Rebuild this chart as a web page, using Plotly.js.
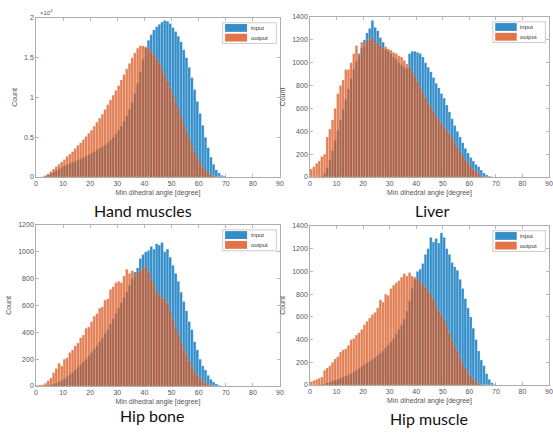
<!DOCTYPE html>
<html>
<head>
<meta charset="utf-8">
<script src="https://cdn.plot.ly/plotly-3.0.1.min.js"></script>
<style>html,body{margin:0;padding:0;background:#fff;}#chart{width:553px;height:434px;}</style>
</head>
<body>
<div id="chart"></div>
<script>
// Bin left edges (degrees), bin width 1
const binLeft = [0,1,2,3,4,5,6,7,8,9,10,11,12,13,14,15,16,17,18,19,20,21,22,23,24,25,26,27,28,29,30,31,32,33,34,35,36,37,38,39,40,41,42,43,44,45,46,47,48,49,50,51,52,53,54,55,56,57,58,59,60,61,62,63,64,65,66,67,68,69];

const panelTitles = ["Hand muscles", "Liver", "Hip bone", "Hip muscle"];
const seriesNames = ["input", "output"];

const handInput = [0,0,0,100,250,400,600,800,1000,1200,1400,1550,1700,1850,2000,2150,2300,2450,2600,2800,3000,3200,3400,3600,3800,4000,4300,4650,5000,5400,5900,6400,7000,7700,8500,9400,10500,11800,13200,14800,16200,17200,17900,18500,18900,19200,19500,19700,19600,19300,18800,18300,17700,17000,16000,15000,13800,12500,11000,9500,8000,6500,5000,3700,2500,1600,900,500,200,100];
const handOutput = [0,0,50,200,400,700,1000,1300,1600,1900,2200,2600,2900,3200,3600,4000,4300,4700,5100,5500,5900,6400,6900,7400,7900,8500,9100,9700,10300,10900,11500,12200,12900,13600,14300,15000,15600,16200,16500,16500,16400,16200,15800,15400,14900,14300,13600,12900,12100,11300,10400,9500,8600,7700,6700,5800,4900,4000,3200,2500,1800,1300,900,500,300,150,50,0,0,0];

const liverInput = [0,0,0,0,5,30,80,150,230,320,410,500,590,680,770,860,940,1010,1080,1130,1200,1260,1300,1370,1310,1280,1220,1180,1120,1100,1080,1050,1030,1000,980,960,950,1080,1100,1100,1090,1080,1050,1000,960,920,870,820,780,730,690,630,570,510,450,400,350,300,250,210,170,140,110,90,60,35,18,8,3,0];
const liverOutput = [70,90,120,140,180,200,350,420,500,600,730,800,850,940,940,1000,1080,1150,1060,1180,1150,1200,1200,1230,1170,1180,1150,1130,1140,1120,1110,1090,1080,1060,1050,1020,990,960,920,880,840,790,740,700,650,610,575,540,500,470,440,410,380,340,300,260,220,185,150,125,95,70,50,30,15,6,2,0,0,0];

const hipBoneInput = [0,0,0,2,5,10,15,22,30,40,55,70,85,100,120,140,160,180,200,225,250,275,300,330,360,390,420,460,500,540,580,620,660,700,750,800,850,880,950,980,1000,1010,1040,1020,1060,1050,1070,1000,1020,960,900,840,780,700,630,560,480,420,330,270,200,150,120,80,50,30,15,5,0,0];
const hipBoneOutput = [5,8,10,20,40,60,100,130,170,150,200,210,250,270,300,320,360,380,430,440,480,520,540,580,590,640,650,720,740,770,780,770,820,870,840,860,820,850,860,880,890,850,800,760,700,680,660,650,620,560,500,440,390,330,280,240,190,150,110,80,60,40,25,12,6,2,0,0,0,0];

const hipMuscleInput = [0,0,0,2,5,10,18,25,35,42,50,60,70,80,90,100,115,130,145,160,180,195,210,225,240,260,280,300,330,350,380,410,450,490,530,580,650,740,850,930,1000,1020,1070,1150,1200,1300,1260,1290,1250,1340,1300,1200,1150,1080,1040,1010,930,850,760,680,600,500,400,300,220,170,100,50,20,5];
const hipMuscleOutput = [30,40,50,60,70,130,150,170,200,230,250,290,310,320,350,400,410,440,460,490,530,560,590,620,640,680,750,730,800,790,850,880,900,920,950,980,960,990,960,950,930,910,890,860,830,800,760,700,650,620,580,520,460,400,340,300,240,190,150,110,80,50,30,15,6,0,0,0,0,0];

const xTickVals = [0,10,20,30,40,50,60,70,80,90];
const yTicksHand = [0,5000,10000,15000,20000];
const yTicksHandText = ["0","0.5","1","1.5","2"];
const yTicks1400 = [0,200,400,600,800,1000,1200,1400];
const yTicks1200 = [0,200,400,600,800,1000,1200];

const panels = [
  {inp: handInput, out: handOutput, ax: "", yr: [0,20000], yt: yTicksHand, ytt: yTicksHandText, dx: [36/553, 280/553], dy: [257/434, 416/434], tx: 143/553, ty: 1-211/434},
  {inp: liverInput, out: liverOutput, ax: "2", yr: [0,1400], yt: yTicks1400, ytt: null, dx: [310/553, 549/553], dy: [257/434, 417/434], tx: 432/553, ty: 1-211/434},
  {inp: hipBoneInput, out: hipBoneOutput, ax: "3", yr: [0,1200], yt: yTicks1200, ytt: null, dx: [36/553, 280/553], dy: [48/434, 209/434], tx: 152/553, ty: 1-415/434},
  {inp: hipMuscleInput, out: hipMuscleOutput, ax: "4", yr: [0,1400], yt: yTicks1400, ytt: null, dx: [310/553, 549/553], dy: [49/434, 208/434], tx: 429/553, ty: 1-418/434}
];

const blue = "rgb(0,114,189)";
const orange = "rgb(217,83,25)";
const xCenters = binLeft.map(v => v + 0.5);

const traces = [];
const layout = {
  width: 553, height: 434,
  margin: {l:0, r:0, t:0, b:0},
  paper_bgcolor: "#fff", plot_bgcolor: "#fff",
  barmode: "overlay", bargap: 0,
  showlegend: false,
  font: {family: "Liberation Sans, Arial, sans-serif", color: "#4d4d4d", size: 7},
  shapes: [], annotations: []
};

panels.forEach((p, i) => {
  const xa = "x" + p.ax, ya = "y" + p.ax;
  [[p.inp, blue, seriesNames[0], 0.8], [p.out, orange, seriesNames[1], 0.74]].forEach(([vals, col, nm, op]) => {
    traces.push({
      type: "bar", x: xCenters, y: vals, width: 1, name: nm,
      xaxis: xa, yaxis: ya, opacity: op,
      marker: {color: col, line: {color: "rgba(255,255,255,0.4)", width: 0.5}},
      hoverinfo: "skip"
    });
  });
  const axCommon = {
    showgrid: false, zeroline: false, showline: true, linecolor: "#9a9a9a", linewidth: 0.8,
    mirror: "ticks", ticks: "inside", ticklen: 3, tickwidth: 0.6, tickcolor: "#8a8a8a",
    tickfont: {size: 7, color: "#555"}
  };
  layout["xaxis" + p.ax] = Object.assign({}, axCommon, {
    domain: p.dx, anchor: ya, range: [0, 90], tickvals: xTickVals,
    title: {text: "Min dihedral angle [degree]", font: {size: 7, color: "#555"}, standoff: 3}
  });
  const yax = Object.assign({}, axCommon, {
    domain: p.dy, anchor: xa, range: p.yr, tickvals: p.yt,
    title: {text: "Count", font: {size: 7, color: "#555"}, standoff: 5}
  });
  if (p.ytt) yax.ticktext = p.ytt;
  layout["yaxis" + p.ax] = yax;

  // panel caption
  layout.annotations.push({
    xref: "paper", yref: "paper", x: p.tx, y: p.ty, xanchor: "center", yanchor: "middle",
    text: panelTitles[i], showarrow: false,
    font: {family: "Lato, sans-serif", size: 16, color: "#111"}
  });

  // legend box
  const xd = xa + " domain", yd = ya + " domain";
  layout.shapes.push({type: "rect", xref: xd, yref: yd, x0: 0.765, x1: 0.985, y0: 0.84, y1: 0.97,
    line: {color: "#aaa", width: 0.6}, fillcolor: "#fff", layer: "above"});
  layout.shapes.push({type: "rect", xref: xd, yref: yd, x0: 0.775, x1: 0.865, y0: 0.913, y1: 0.962,
    line: {width: 0}, fillcolor: blue, opacity: 0.8, layer: "above"});
  layout.shapes.push({type: "rect", xref: xd, yref: yd, x0: 0.775, x1: 0.865, y0: 0.852, y1: 0.901,
    line: {width: 0}, fillcolor: orange, opacity: 0.8, layer: "above"});
  layout.annotations.push({xref: xd, yref: yd, x: 0.872, y: 0.937, xanchor: "left", yanchor: "middle",
    text: seriesNames[0], showarrow: false, font: {size: 6, color: "#333"}});
  layout.annotations.push({xref: xd, yref: yd, x: 0.872, y: 0.876, xanchor: "left", yanchor: "middle",
    text: seriesNames[1], showarrow: false, font: {size: 6, color: "#333"}});
});

// exponent label for the Hand muscles panel
layout.annotations.push({xref: "x domain", yref: "y domain", x: 0.01, y: 1.0, xanchor: "left", yanchor: "bottom",
  text: "×10<sup>4</sup>", showarrow: false, font: {size: 6, color: "#555"}});

Plotly.newPlot("chart", traces, layout, {staticPlot: true, displayModeBar: false});
</script>
</body>
</html>
